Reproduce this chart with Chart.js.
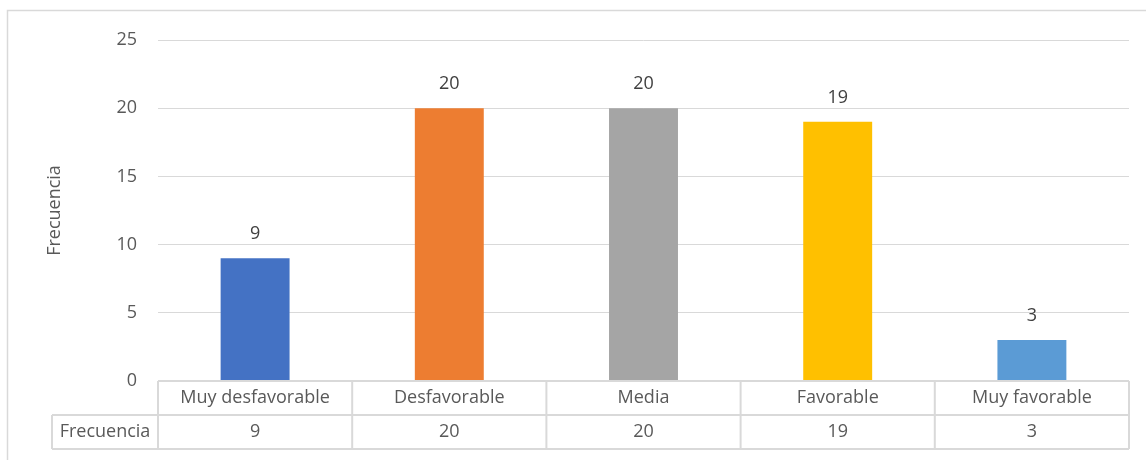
<!DOCTYPE html>
<html>
<head>
<meta charset="utf-8">
<script src="https://cdn.jsdelivr.net/npm/chart.js@4/dist/chart.umd.min.js"></script>
<style>
  html, body { margin: 0; padding: 0; background: #ffffff; }
  #wrap { width: 1146px; height: 460px; position: relative; }
</style>
</head>
<body>
<div id="wrap"><canvas id="chart" width="1146" height="460"></canvas></div>
<script>
// Response categories and their frequencies
const categories = ['Muy desfavorable', 'Desfavorable', 'Media', 'Favorable', 'Muy favorable'];
const frecuencia = [9, 20, 20, 19, 3];
const barColors = ['#4472C4', '#ED7D31', '#A5A5A5', '#FFC000', '#5B9BD5'];
const seriesName = 'Frecuencia';
const yTicks = [0, 5, 10, 15, 20, 25];

const FONT = '"Open Sans", "DejaVu Sans", sans-serif';
const SIZE = 18;
const TEXT = '#595959';
const LABEL = '#404040';
const LINE = '#d9d9d9';

// Outer frame, value labels and the data table under the plot
const tablePlugin = {
  id: 'dataTable',
  beforeDraw(chart) {
    const ctx = chart.ctx;
    ctx.save();
    ctx.fillStyle = '#ffffff';
    ctx.fillRect(0, 0, chart.width, chart.height);
    ctx.strokeStyle = LINE;
    ctx.lineWidth = 1.5;
    ctx.beginPath();
    ctx.moveTo(7.5, chart.height + 2);
    ctx.lineTo(7.5, 10.5);
    ctx.lineTo(chart.width + 2, 10.5);
    ctx.stroke();
    ctx.restore();
  },
  afterDatasetsDraw(chart) {
    const ctx = chart.ctx;
    const x = chart.scales.x;
    const y = chart.scales.y;
    const area = chart.chartArea;
    const meta = chart.getDatasetMeta(0);
    ctx.save();
    ctx.font = SIZE + 'px ' + FONT;
    ctx.textAlign = 'center';
    ctx.textBaseline = 'middle';
    // value labels above bars
    ctx.fillStyle = LABEL;
    meta.data.forEach((bar, i) => {
      ctx.fillText(String(frecuencia[i]), bar.x, bar.y - 24);
    });

    // data table
    const n = categories.length;
    const left = area.left, right = area.right;
    const colW = (right - left) / n;
    const rowH = 34;
    const top = y.getPixelForValue(0);
    const r1 = top + rowH, r2 = top + 2 * rowH;
    const headLeft = 52;

    ctx.strokeStyle = LINE;
    ctx.lineWidth = 2;
    ctx.beginPath();
    ctx.moveTo(left, top); ctx.lineTo(right, top);
    ctx.moveTo(headLeft, r1); ctx.lineTo(right, r1);
    ctx.moveTo(headLeft, r2); ctx.lineTo(right, r2);
    ctx.moveTo(headLeft, r1); ctx.lineTo(headLeft, r2);
    for (let i = 0; i <= n; i++) {
      const xx = left + i * colW;
      ctx.moveTo(xx, top); ctx.lineTo(xx, r2);
    }
    ctx.stroke();

    ctx.fillStyle = TEXT;
    categories.forEach((c, i) => {
      const cx = x.getPixelForValue(i);
      ctx.fillText(c, cx, top + rowH / 2);
      ctx.fillText(String(frecuencia[i]), cx, r1 + rowH / 2);
    });
    ctx.fillText(seriesName, (headLeft + left) / 2, r1 + rowH / 2);
    ctx.restore();
  }
};

new Chart(document.getElementById('chart'), {
  type: 'bar',
  data: {
    labels: categories,
    datasets: [{
      label: seriesName,
      data: frecuencia,
      backgroundColor: barColors,
      borderWidth: 0,
      barPercentage: 0.355,
      categoryPercentage: 1.0
    }]
  },
  options: {
    responsive: false,
    animation: false,
    devicePixelRatio: 1,
    layout: { padding: { top: 40, right: 17, bottom: 79, left: 0 } },
    plugins: {
      legend: { display: false },
      tooltip: { enabled: false }
    },
    scales: {
      x: { display: false },
      y: {
        min: 0,
        max: 25,
        afterBuildTicks(scale) { scale.ticks = yTicks.map(v => ({ value: v })); },
        afterFit(scale) { scale.width = 158; },
        border: { display: false },
        grid: { color: LINE, lineWidth: 1, drawTicks: false },
        ticks: { padding: 21, color: TEXT, font: { family: FONT, size: SIZE } },
        title: {
          display: true,
          text: seriesName,
          color: TEXT,
          font: { family: FONT, size: SIZE },
          padding: { top: 44, bottom: 0 }
        }
      }
    }
  },
  plugins: [tablePlugin]
});
</script>
</body>
</html>
